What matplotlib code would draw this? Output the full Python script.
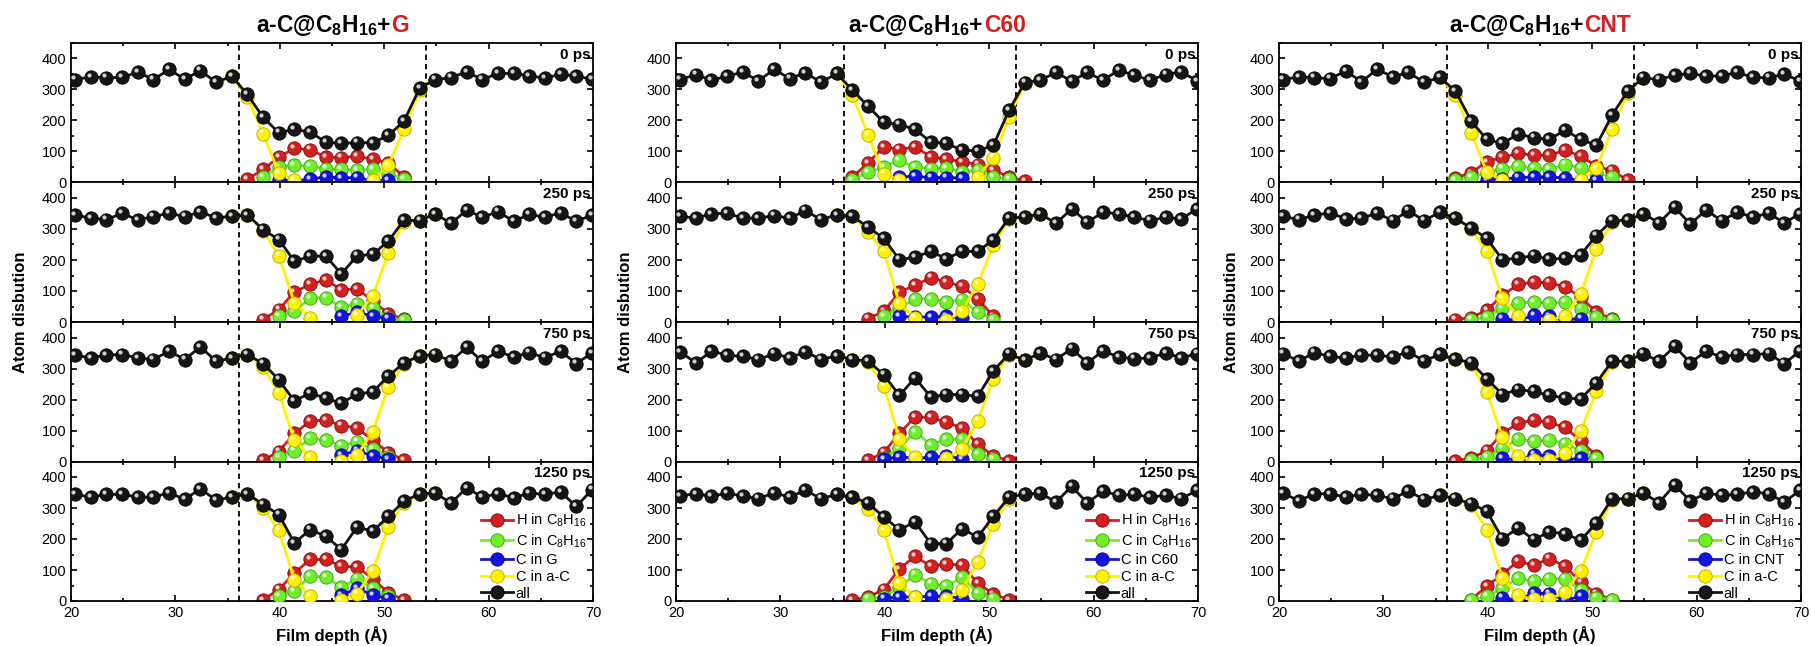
import numpy as np
import matplotlib
matplotlib.use('Agg')
import matplotlib.pyplot as plt
from matplotlib.lines import Line2D
from matplotlib.ticker import MultipleLocator
from matplotlib.transforms import offset_copy

plt.rcParams['font.family'] = ['Liberation Sans', 'DejaVu Sans']
plt.rcParams['mathtext.fontset'] = 'custom'
plt.rcParams['mathtext.rm'] = 'Liberation Sans'
plt.rcParams['mathtext.it'] = 'Liberation Sans:italic'
plt.rcParams['mathtext.bf'] = 'Liberation Sans:bold'

nan = np.nan

# film depth of every bin (A)
depth = [20.4, 21.9, 23.4, 24.9, 26.4, 27.9, 29.4, 30.9, 32.4, 33.9,
         35.4, 36.9, 38.4, 39.9, 41.4, 42.9, 44.4, 45.9, 47.4, 48.9,
         50.4, 51.9, 53.4, 54.9, 56.4, 57.9, 59.4, 60.9, 62.4, 63.9,
         65.4, 66.9, 68.4, 69.9]
# bins 10..23 hold the interface species
win = depth[10:24]

times = ['0 ps', '250 ps', '750 ps', '1250 ps']
fillers = ['G', 'C60', 'CNT']
walls = [(36.1, 54.0), (36.1, 52.6), (36.1, 54.0)]

# ---------------- a-C@C8H16+G ----------------
all_G_0 = [332, 341, 338, 339, 356, 332, 365, 333, 361, 323, 343, 284, 210, 161, 171, 163, 130, 126, 129, 128,
           152, 198, 305, 332, 338, 357, 332, 352, 352, 344, 337, 349, 343, 333]
all_G_250 = [345, 335, 330, 351, 329, 340, 351, 340, 355, 336, 341, 346, 298, 266, 196, 212, 213, 155, 214, 218,
             261, 329, 327, 349, 318, 361, 338, 356, 325, 347, 338, 352, 325, 345]
all_G_750 = [343, 334, 344, 345, 334, 329, 356, 329, 370, 323, 334, 345, 316, 264, 195, 221, 204, 188, 218, 224,
             276, 318, 341, 345, 324, 368, 323, 356, 337, 351, 335, 356, 316, 350]
all_G_1250 = [344, 335, 344, 344, 335, 335, 349, 328, 362, 325, 335, 346, 311, 279, 187, 230, 209, 166, 239, 225,
              273, 322, 346, 348, 316, 365, 335, 346, 333, 348, 344, 352, 305, 359]

h_G_0 = [nan, 11, 42, 82, 110, 106, 82, 80, 85, 75, 63, 18, nan, nan]
c_G_0 = [nan, nan, 18, 50, 56, 53, 45, 42, 40, 42, 29, 10, nan, nan]
f_G_0 = [nan, nan, nan, 8, 5, 11, 18, 15, 16, 5, 8, nan, nan, nan]
a_G_0 = [343, 276, 158, 31, 8, nan, nan, nan, nan, 8, 56, 171, 298, 332]

h_G_250 = [nan, nan, 8, 40, 97, 121, 136, 104, 107, 68, 27, 9, nan, nan]
c_G_250 = [nan, nan, nan, 19, 34, 77, 79, 48, 59, 45, 14, 5, nan, nan]
f_G_250 = [nan, nan, nan, nan, nan, nan, nan, 18, 32, 19, 11, nan, nan, nan]
a_G_250 = [341, 346, 293, 214, 62, 14, nan, nan, 21, 84, 222, 324, 327, 349]

h_G_750 = [nan, nan, 4, 32, 91, 130, 134, 116, 108, 69, 29, 4, nan, nan]
c_G_750 = [nan, nan, nan, 13, 35, 75, 70, 51, 64, 40, 15, nan, nan, nan]
f_G_750 = [nan, nan, nan, nan, nan, nan, nan, 21, 35, 18, 8, nan, nan, nan]
a_G_750 = [334, 345, 305, 222, 69, 15, nan, 2, 21, 96, 240, 316, 341, 345]

h_G_1250 = [nan, nan, 4, 37, 90, 134, 134, 112, 110, 72, 26, 4, nan, nan]
c_G_1250 = [nan, nan, nan, 15, 32, 80, 77, 45, 72, 42, 15, nan, nan, nan]
f_G_1250 = [nan, nan, nan, nan, nan, nan, nan, 18, 42, 18, 8, nan, nan, nan]
a_G_1250 = [335, 346, 300, 228, 69, 16, nan, 2, 24, 97, 239, 316, 346, 348]

# ---------------- a-C@C8H16+C60 ----------------
all_C60_0 = [332, 348, 330, 343, 356, 328, 365, 335, 354, 323, 352, 298, 246, 194, 187, 171, 131, 126, 104, 102,
             120, 233, 322, 330, 355, 327, 355, 330, 362, 346, 330, 348, 357, 328]
all_C60_250 = [341, 335, 349, 351, 335, 335, 343, 335, 359, 330, 346, 341, 306, 270, 201, 209, 228, 204, 228, 228,
               265, 336, 338, 349, 318, 365, 322, 354, 349, 338, 327, 338, 332, 365]
all_C60_750 = [354, 318, 356, 343, 339, 329, 348, 334, 354, 329, 341, 329, 324, 280, 213, 270, 208, 216, 216, 210,
               292, 348, 326, 350, 329, 364, 318, 357, 337, 332, 334, 350, 334, 348]
all_C60_1250 = [339, 346, 338, 348, 338, 330, 349, 335, 357, 330, 344, 335, 316, 271, 230, 255, 185, 185, 233, 206,
                273, 335, 344, 348, 319, 370, 316, 354, 341, 344, 335, 341, 330, 357]

h_C60_0 = [nan, 18, 63, 115, 106, 115, 83, 75, 67, 58, 40, 18, 5, nan]
c_C60_0 = [nan, 8, 34, 50, 72, 50, 45, 47, 34, 40, 18, 10, nan, nan]
f_C60_0 = [nan, nan, nan, nan, 18, 20, 16, 16, 15, nan, nan, nan, nan, nan]
a_C60_0 = [352, 282, 153, 29, 8, nan, nan, nan, nan, 18, 80, 210, 320, 330]

h_C60_250 = [nan, nan, 11, 34, 97, 118, 143, 129, 115, 75, 18, nan, nan, nan]
c_C60_250 = [nan, nan, nan, 18, 45, 75, 75, 64, 72, 32, 8, nan, nan, nan]
f_C60_250 = [nan, nan, nan, nan, 18, 16, 16, 18, 14, nan, nan, nan, nan, nan]
a_C60_250 = [346, 341, 290, 228, 61, 14, nan, 5, 34, 123, 247, 333, 338, 349]

h_C60_750 = [nan, nan, 4, 29, 91, 143, 143, 126, 108, 56, 18, 2, nan, nan]
c_C60_750 = [nan, nan, nan, 11, 43, 96, 54, 72, 72, 24, 8, nan, nan, nan]
f_C60_750 = [nan, nan, nan, 8, 15, 11, 13, 18, 8, nan, nan, nan, nan, nan]
a_C60_750 = [341, 329, 320, 245, 72, 15, nan, 11, 40, 132, 267, 345, 326, 350]

h_C60_1250 = [nan, 4, 13, 37, 104, 144, 112, 120, 115, 58, 22, 4, nan, nan]
c_C60_1250 = [nan, nan, 8, 13, 45, 85, 56, 47, 77, 26, 8, nan, nan, nan]
f_C60_1250 = [nan, nan, nan, 8, 13, 13, 15, 15, 8, nan, nan, nan, nan, nan]
a_C60_1250 = [344, 335, 298, 228, 58, 13, nan, 8, 37, 126, 249, 330, 344, 348]

# ---------------- a-C@C8H16+CNT ----------------
all_CNT_0 = [332, 341, 338, 335, 360, 325, 365, 341, 355, 323, 339, 295, 199, 139, 126, 156, 145, 139, 169, 139,
             120, 217, 295, 338, 332, 346, 352, 343, 344, 355, 339, 338, 349, 328]
all_CNT_250 = [341, 330, 345, 352, 333, 335, 351, 327, 359, 327, 354, 335, 303, 270, 201, 206, 214, 202, 206, 217,
               279, 327, 329, 349, 320, 370, 316, 361, 327, 354, 338, 351, 320, 349]
all_CNT_750 = [348, 324, 351, 339, 334, 343, 343, 337, 354, 324, 346, 330, 319, 267, 216, 232, 226, 213, 205, 202,
               254, 323, 324, 348, 323, 372, 318, 356, 337, 345, 345, 348, 316, 356]
all_CNT_1250 = [348, 323, 346, 346, 335, 344, 341, 330, 355, 327, 341, 330, 314, 290, 201, 235, 198, 223, 217, 196,
                252, 330, 330, 348, 317, 375, 322, 348, 341, 344, 352, 346, 319, 357]

h_CNT_0 = [nan, 15, 31, 67, 81, 94, 88, 88, 104, 85, 53, 38, 8, nan]
c_CNT_0 = [nan, 8, 18, 30, 45, 53, 47, 42, 58, 47, 30, 18, nan, nan]
f_CNT_0 = [nan, nan, nan, 8, 11, 16, 18, 18, 15, 5, 8, nan, nan, nan]
a_CNT_0 = [339, 282, 161, 34, 8, nan, nan, nan, nan, 8, 47, 171, 290, 338]

h_CNT_250 = [nan, 8, 14, 38, 86, 121, 129, 127, 113, 80, 32, 9, nan, nan]
c_CNT_250 = [nan, nan, 8, 16, 46, 62, 64, 61, 64, 43, 16, 8, nan, nan]
f_CNT_250 = [nan, nan, nan, nan, 11, 5, 21, 18, 8, 11, nan, nan, nan, nan]
a_CNT_250 = [354, 335, 300, 228, 78, 18, nan, 8, 19, 91, 236, 322, 329, 349]

h_CNT_750 = [nan, 2, 11, 35, 91, 123, 134, 126, 110, 67, 18, nan, nan, nan]
c_CNT_750 = [nan, nan, 4, 13, 43, 72, 65, 70, 58, 35, 11, nan, nan, nan]
f_CNT_750 = [nan, nan, nan, nan, 11, 4, 22, 18, 4, 11, nan, nan, nan, nan]
a_CNT_750 = [346, 330, 315, 224, 78, 18, 5, 5, 27, 99, 226, 320, 324, 348]

h_CNT_1250 = [nan, nan, 4, 48, 86, 129, 115, 137, 112, 61, 24, 4, nan, nan]
c_CNT_1250 = [nan, nan, 4, 15, 42, 74, 63, 72, 72, 34, 11, 4, nan, nan]
f_CNT_1250 = [nan, nan, nan, nan, 11, 2, 26, 24, 2, 15, nan, nan, nan, nan]
a_CNT_1250 = [341, 330, 310, 230, 75, 18, 5, 5, 29, 97, 223, 325, 330, 348]

all_atoms = [[all_G_0, all_G_250, all_G_750, all_G_1250],
             [all_C60_0, all_C60_250, all_C60_750, all_C60_1250],
             [all_CNT_0, all_CNT_250, all_CNT_750, all_CNT_1250]]
h_c8h16 = [[h_G_0, h_G_250, h_G_750, h_G_1250],
           [h_C60_0, h_C60_250, h_C60_750, h_C60_1250],
           [h_CNT_0, h_CNT_250, h_CNT_750, h_CNT_1250]]
c_c8h16 = [[c_G_0, c_G_250, c_G_750, c_G_1250],
           [c_C60_0, c_C60_250, c_C60_750, c_C60_1250],
           [c_CNT_0, c_CNT_250, c_CNT_750, c_CNT_1250]]
c_filler = [[f_G_0, f_G_250, f_G_750, f_G_1250],
            [f_C60_0, f_C60_250, f_C60_750, f_C60_1250],
            [f_CNT_0, f_CNT_250, f_CNT_750, f_CNT_1250]]
c_ac = [[a_G_0, a_G_250, a_G_750, a_G_1250],
        [a_C60_0, a_C60_250, a_C60_750, a_C60_1250],
        [a_CNT_0, a_CNT_250, a_CNT_750, a_CNT_1250]]

red, green, blue, yellow, black = '#d21f1f', '#6fef2a', '#1414e0', '#fff200', '#151515'
edges = {red: '#7a0c0c', green: '#3c9a12', blue: '#08087a', yellow: '#b8a800', black: '#000000'}

W, H = 1811, 646
fig = plt.figure(figsize=(W / 100, H / 100), dpi=100)

col_left = [71, 676, 1279]
col_w = 522
top, bot = 43, 601
row_h = (bot - top) / 4
MS = 9.6
LW = 2.0


def balls(ax, x, y, color, z):
    ax.plot(x, y, '-', color=color, lw=LW, zorder=z)
    ax.plot(x, y, 'o', ls='none', ms=MS, mfc=color, mec=edges[color], mew=0.6, zorder=z + 0.1)
    hl = offset_copy(ax.transData, fig=fig, x=-1.5, y=1.6, units='points')
    ax.plot(x, y, 'o', ls='none', ms=3.0, mfc='white', mec='none', alpha=0.8,
            transform=hl, zorder=z + 0.2)


for c in range(3):
    for r in range(4):
        ax = fig.add_axes([col_left[c] / W, 1 - (top + (r + 1) * row_h) / H, col_w / W, row_h / H])
        for wx in walls[c]:
            ax.axvline(wx, color='k', lw=1.3, ls=(0, (3, 2.2)), zorder=1)
        balls(ax, win, h_c8h16[c][r], red, 2)
        balls(ax, win, c_c8h16[c][r], green, 3)
        balls(ax, win, c_filler[c][r], blue, 4)
        balls(ax, win, c_ac[c][r], yellow, 5)
        balls(ax, depth, all_atoms[c][r], black, 6)
        ax.set_xlim(20, 70)
        ax.set_ylim(0, 450)
        ax.xaxis.set_major_locator(MultipleLocator(10))
        ax.xaxis.set_minor_locator(MultipleLocator(5))
        ax.yaxis.set_major_locator(MultipleLocator(100))
        ax.yaxis.set_minor_locator(MultipleLocator(50))
        ax.tick_params(which='both', direction='in', top=True, right=True, width=1.2, labelsize=10.5)
        ax.tick_params(which='major', length=4.5)
        ax.tick_params(which='minor', length=2.5)
        ax.set_yticks([0, 100, 200, 300, 400])
        if r < 3:
            ax.tick_params(labelbottom=False)
        for s in ax.spines.values():
            s.set_linewidth(1.3)
        ax.text(0.995, 0.965, times[r], transform=ax.transAxes, ha='right', va='top',
                fontsize=11, weight='bold', zorder=10)
        if r == 3:
            names = ['H in C$_8$H$_{16}$', 'C in C$_8$H$_{16}$', 'C in ' + fillers[c], 'C in a-C', 'all']
            cols = [red, green, blue, yellow, black]
            handles = [Line2D([], [], color=k, lw=LW, marker='o', ms=MS, mfc=k, mec=edges[k], mew=0.6)
                       for k in cols]
            ax.legend(handles, names, loc='lower left', bbox_to_anchor=(0.765, -0.07), frameon=False,
                      fontsize=10.5, handlelength=2.2, handletextpad=0.2, labelspacing=0.2,
                      borderpad=0.2)

    xc = (col_left[c] + col_w / 2) / W
    fig.text(xc, 1 - 635 / H, 'Film depth (Å)', ha='center', va='center', fontsize=12, weight='bold')
    ylx = [21, 625, 1231][c]
    fig.text(ylx / W, 1 - 312 / H, 'Atom disbution', rotation=90, ha='center', va='center',
             fontsize=12, weight='bold')

# titles: black part followed by red filler name
fig.canvas.draw()
rend = fig.canvas.get_renderer()
for c in range(3):
    t1 = fig.text(0, 1 - 32 / H, r'a-C@C$_\mathbf{8}$H$_\mathbf{16}$+', fontsize=16.5, weight='bold',
                  ha='left', va='baseline')
    t2 = fig.text(0, 1 - 32 / H, fillers[c], fontsize=16.5, weight='bold', color='#d21f1f',
                  ha='left', va='baseline')
    w1 = t1.get_window_extent(rend).width
    w2 = t2.get_window_extent(rend).width
    x0 = col_left[c] + col_w / 2 - (w1 + w2) / 2
    t1.set_x(x0 / W)
    t2.set_x((x0 + w1) / W)

fig.savefig('out.png', dpi=100)
